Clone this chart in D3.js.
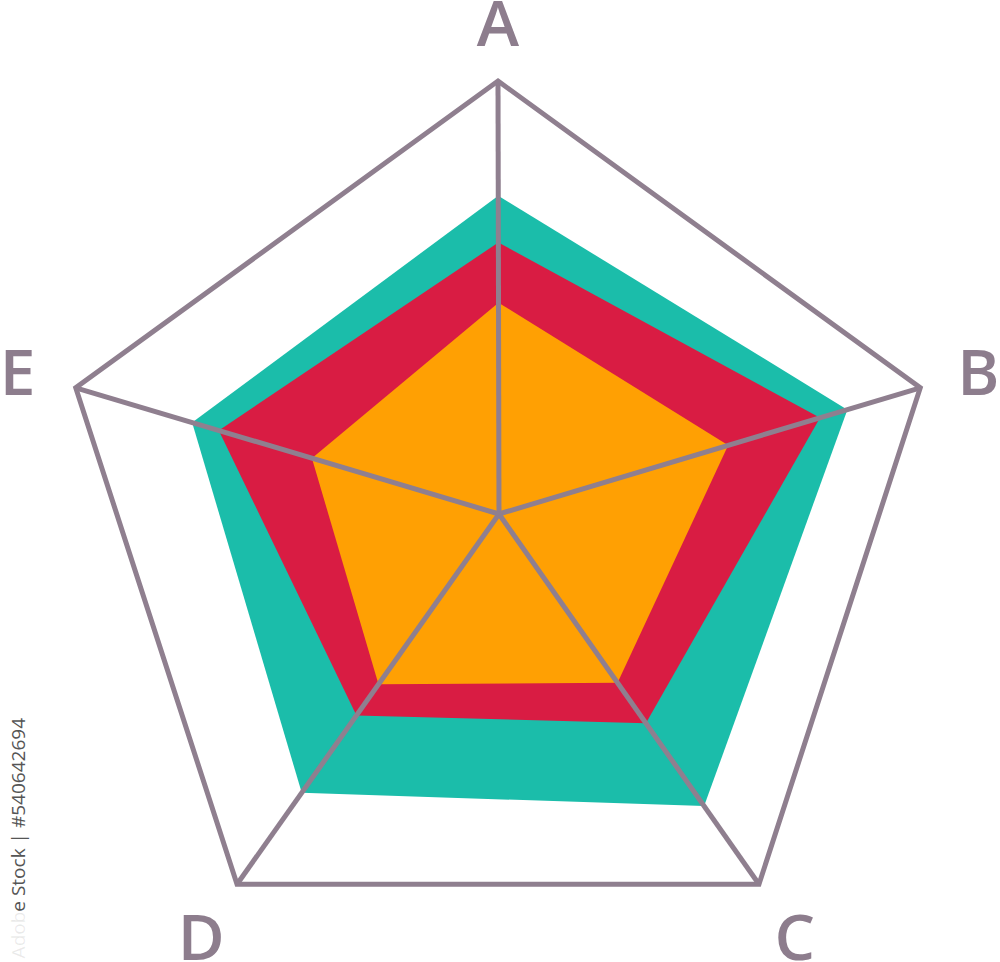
<!DOCTYPE html>
<html>
<head>
<meta charset="utf-8">
<script src="https://cdn.jsdelivr.net/npm/d3@7"></script>
<style>
  html, body { margin: 0; padding: 0; background: #ffffff; }
  svg { display: block; }
</style>
</head>
<body>
<svg id="chart" width="1000" height="962"></svg>
<script>
// ---- data ----
const axes = ["A", "B", "C", "D", "E"];
const maxValue = 100;
const seriesNames = ["teal", "red", "orange"];
const tealValues   = [73.5, 82.7, 78.9, 75.3, 72.5];
const redValues    = [62.7, 76.2, 56.5, 54.4, 66.2];
const orangeValues = [48.8, 54.4, 45.6, 46.0, 44.2];
const seriesColors = ["#1bbdaa", "#d91c43", "#ffa003"];
const watermarkText = ["Adob", "e Stock | #540642694"];

// ---- layout ----
const W = 1000, H = 962;
const cx = 498, cy = 525, R = 444;      // outer pentagon
const hub = { x: 499, y: 514 };          // where the spokes meet
const labelCenter = { x: 498, y: 528 };
const labelR = 505;
const gridColor = "#8f7f8f";

const svg = d3.select("#chart");

const angle = d3.scalePoint().domain(axes).range([0, 2 * Math.PI * (axes.length - 1) / axes.length]);
const ang = a => angle(a) - Math.PI / 2;
const outer = axes.map(a => ({ x: cx + R * Math.cos(ang(a)), y: cy + R * Math.sin(ang(a)) }));
const frac = d3.scaleLinear().domain([0, maxValue]).range([0, 1]);

const pointFor = (v, i) => {
  const f = frac(v);
  return [hub.x + f * (outer[i].x - hub.x), hub.y + f * (outer[i].y - hub.y)];
};
const line = d3.line().curve(d3.curveLinearClosed);

const series = [tealValues, redValues, orangeValues];
svg.append("g").selectAll("path")
  .data(series)
  .join("path")
  .attr("d", vals => line(vals.map(pointFor)))
  .attr("fill", (d, i) => seriesColors[i])
  .attr("stroke", "none");

// spokes
svg.append("g").selectAll("line")
  .data(outer)
  .join("line")
  .attr("x1", hub.x).attr("y1", hub.y)
  .attr("x2", d => d.x).attr("y2", d => d.y)
  .attr("stroke", gridColor)
  .attr("stroke-width", 5)
  .attr("stroke-linecap", "butt");

// outer pentagon
svg.append("path")
  .attr("d", line(outer.map(d => [d.x, d.y])))
  .attr("fill", "none")
  .attr("stroke", gridColor)
  .attr("stroke-width", 5)
  .attr("stroke-linejoin", "miter");

// axis labels
svg.append("g").selectAll("text")
  .data(axes)
  .join("text")
  .attr("x", a => labelCenter.x + labelR * Math.cos(ang(a)))
  .attr("y", a => labelCenter.y + labelR * Math.sin(ang(a)))
  .attr("dy", "0.36em")
  .attr("text-anchor", "middle")
  .attr("font-family", "'Open Sans', sans-serif")
  .attr("font-weight", 600)
  .attr("font-size", 64)
  .attr("fill", "#8d7d8d")
  .text(a => a);

// vertical stock id text
const wm = svg.append("text")
  .attr("transform", "translate(25,718) rotate(-90)")
  .attr("text-anchor", "end")
  .attr("font-family", "'Open Sans', sans-serif")
  .attr("font-size", 19)
  .attr("fill", "#555555");
wm.append("tspan").attr("fill-opacity", 0.12).text(watermarkText[0]);
wm.append("tspan").text(watermarkText[1]);
</script>
</body>
</html>
